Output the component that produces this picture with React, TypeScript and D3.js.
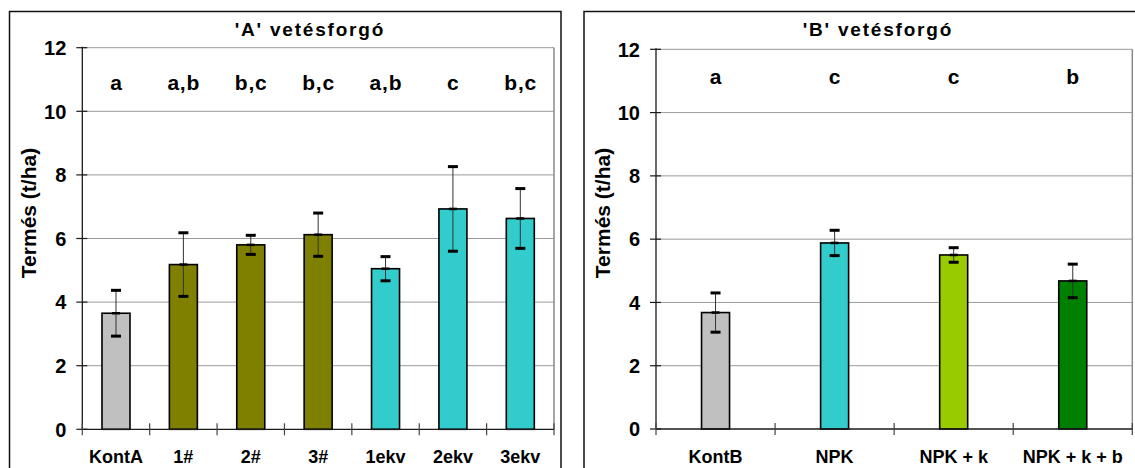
import React from "react";
import * as d3 from "d3";

// Rotation 'A'
const catsA = ["KontA", "1#", "2#", "3#", "1ekv", "2ekv", "3ekv"];
const meansA = [3.65, 5.18, 5.8, 6.12, 5.05, 6.93, 6.63];
const errA = [0.72, 1.0, 0.3, 0.68, 0.38, 1.33, 0.94];
const lettersA = ["a", "a,b", "b,c", "b,c", "a,b", "c", "b,c"];
const colorsA = ["#C0C0C0", "#808000", "#808000", "#808000", "#33CCCC", "#33CCCC", "#33CCCC"];

// Rotation 'B'
const catsB = ["KontB", "NPK", "NPK + k", "NPK + k + b"];
const meansB = [3.68, 5.88, 5.5, 4.68];
const errB = [0.62, 0.4, 0.23, 0.53];
const lettersB = ["a", "c", "c", "b"];
const colorsB = ["#C0C0C0", "#33CCCC", "#99CC00", "#008000"];

const yTicks = [0, 2, 4, 6, 8, 10, 12];

const FONT = "'Liberation Sans', Arial, sans-serif";

type PanelProps = {
  title: string;
  cats: string[];
  means: number[];
  errs: number[];
  letters: string[];
  colors: string[];
  frame: { x: number; y: number; w: number; h: number };
  plot: { x0: number; x1: number; y0: number; y12: number };
  titleX: number;
  letterY: number;
  letterSize: number;
  letterSpacing: number;
  labelX: number;
};

function Panel(p: PanelProps) {
  const x = d3.scaleBand<string>().domain(p.cats).range([p.plot.x0, p.plot.x1]).padding(0);
  const y = d3.scaleLinear().domain([0, 12]).range([p.plot.y0, p.plot.y12]);
  const barW = 28;
  const capW = 10;
  const top = y(12);
  const base = y(0);
  const tickEdges = p.cats.map((c) => x(c)!).concat([p.plot.x1]);

  return (
    <g>
      <rect x={p.frame.x} y={p.frame.y} width={p.frame.w} height={p.frame.h} fill="#fff" stroke="#111" strokeWidth={1.5} />
      <text x={p.titleX + 0.9} y={36} textAnchor="middle" fontFamily={FONT} fontWeight="bold" fontSize={19} letterSpacing={1.8}>
        {p.title}
      </text>

      {/* gridlines */}
      {yTicks.filter((t) => t > 0).map((t) => (
        <line key={t} x1={p.plot.x0} x2={p.plot.x1} y1={y(t)} y2={y(t)} stroke="#9a9a9a" strokeWidth={1} />
      ))}
      {/* plot area right border */}
      <line x1={p.plot.x1} x2={p.plot.x1} y1={top} y2={base} stroke="#8a8a8a" strokeWidth={1.5} />

      {/* bars */}
      {p.cats.map((c, i) => {
        const cx = x(c)! + x.bandwidth() / 2;
        return (
          <rect key={c} x={cx - barW / 2} y={y(p.means[i])} width={barW} height={base - y(p.means[i])}
            fill={p.colors[i]} stroke="#000" strokeWidth={1.6} />
        );
      })}

      {/* error bars */}
      {p.cats.map((c, i) => {
        const cx = x(c)! + x.bandwidth() / 2;
        const hi = y(p.means[i] + p.errs[i]);
        const lo = y(p.means[i] - p.errs[i]);
        const m = y(p.means[i]);
        return (
          <g key={c}>
            <line x1={cx} x2={cx} y1={hi} y2={lo} stroke="#333" strokeWidth={1} />
            <line x1={cx - capW / 2} x2={cx + capW / 2} y1={hi} y2={hi} stroke="#000" strokeWidth={3} />
            <line x1={cx - capW / 2} x2={cx + capW / 2} y1={lo} y2={lo} stroke="#000" strokeWidth={3} />
            <line x1={cx - 4} x2={cx + 4} y1={m} y2={m} stroke="#000" strokeWidth={2.5} />
          </g>
        );
      })}

      {/* y axis */}
      <line x1={p.plot.x0} x2={p.plot.x0} y1={top - 1} y2={base} stroke="#1a1a1a" strokeWidth={1.3} />
      {yTicks.map((t) => (
        <g key={t}>
          <line x1={p.plot.x0 - 6} x2={p.plot.x0 + 5} y1={y(t)} y2={y(t)} stroke="#1a1a1a" strokeWidth={1.2} />
          <text x={p.plot.x0 - 16} y={y(t)} dy="0.36em" textAnchor="end" fontFamily={FONT} fontWeight="bold" fontSize={20}>
            {t}
          </text>
        </g>
      ))}

      {/* x axis */}
      <line x1={p.plot.x0} x2={p.plot.x1} y1={base} y2={base} stroke="#1a1a1a" strokeWidth={1.3} />
      {tickEdges.map((tx, i) => (
        <line key={i} x1={tx} x2={tx} y1={base - 6} y2={base + 6} stroke="#444" strokeWidth={1.2} />
      ))}
      {p.cats.map((c) => (
        <text key={c} x={x(c)! + x.bandwidth() / 2} y={462.5} textAnchor="middle" fontFamily={FONT} fontWeight="bold" fontSize={18}>
          {c}
        </text>
      ))}

      {/* significance letters */}
      {p.cats.map((c, i) => (
        <text key={c} x={x(c)! + x.bandwidth() / 2 + p.letterSpacing / 2} y={p.letterY} textAnchor="middle"
          fontFamily={FONT} fontWeight="bold" fontSize={p.letterSize} letterSpacing={p.letterSpacing}>
          {p.letters[i]}
        </text>
      ))}

      {/* y axis title */}
      <text transform={`translate(${p.labelX},213) rotate(-90)`} textAnchor="middle" fontFamily={FONT} fontWeight="bold" fontSize={21}>
        Termés (t/ha)
      </text>
    </g>
  );
}

export default function App() {
  return (
    <div style={{ position: "absolute", left: 0, top: 0 }}>
      <svg width={1135} height={468} style={{ display: "block", background: "#fff" }}>
        <Panel
          title="'A' vetésforgó"
          cats={catsA}
          means={meansA}
          errs={errA}
          letters={lettersA}
          colors={colorsA}
          frame={{ x: 9.5, y: 11.5, w: 551.5, h: 470 }}
          plot={{ x0: 82.3, x1: 554, y0: 429.3, y12: 47.7 }}
          titleX={309}
          letterY={90}
          letterSize={21}
          letterSpacing={0.8}
          labelX={36}
        />
        <Panel
          title="'B' vetésforgó"
          cats={catsB}
          means={meansB}
          errs={errB}
          letters={lettersB}
          colors={colorsB}
          frame={{ x: 584, y: 11.5, w: 560, h: 470 }}
          plot={{ x0: 656, x1: 1132.3, y0: 429, y12: 49.3 }}
          titleX={877}
          letterY={84}
          letterSize={21}
          letterSpacing={0}
          labelX={610}
        />
      </svg>
    </div>
  );
}
